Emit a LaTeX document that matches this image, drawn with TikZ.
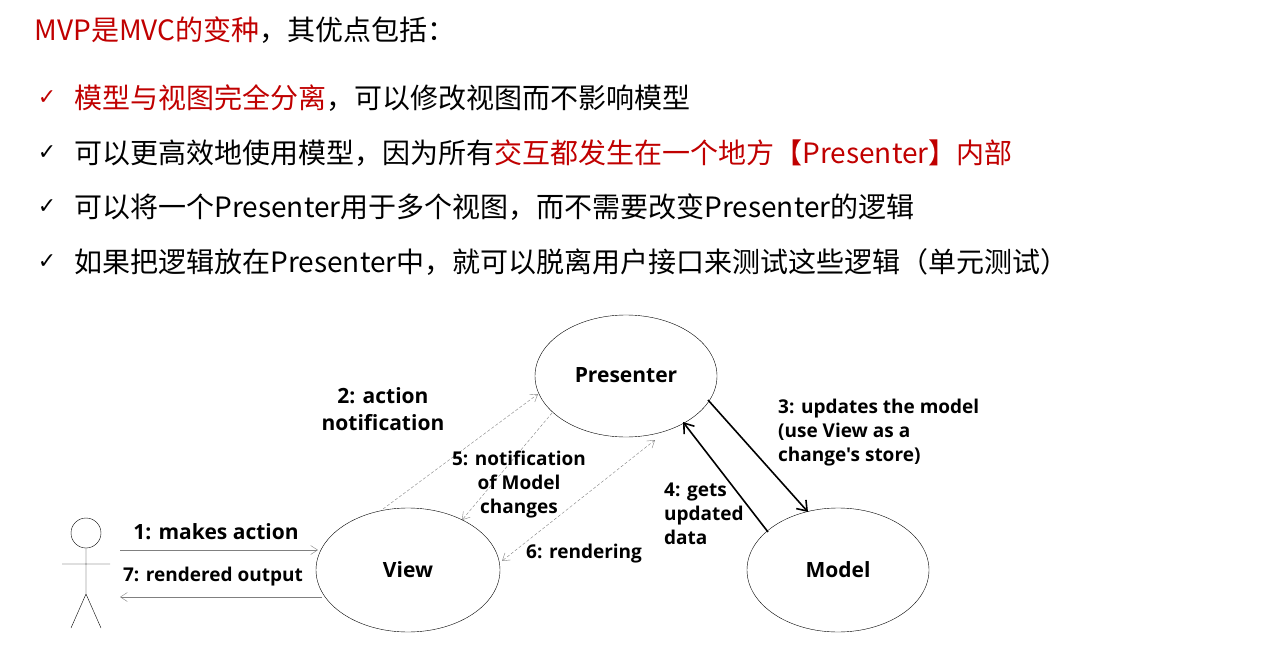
\documentclass[tikz,border=0pt]{standalone}
\usepackage{fontspec}
\setmainfont{Noto Sans CJK SC}
\newfontfamily\lab{Open Sans}
\newfontfamily\sym{DejaVu Sans}
\usetikzlibrary{arrows.meta}
\definecolor{myred}{RGB}{192,0,0}
\begin{document}
\begin{tikzpicture}[x=1pt,y=-1pt,
  lbl/.style={font=\lab\bfseries\fontsize{19}{24}\selectfont,align=center,inner sep=0},
  big/.style={font=\lab\bfseries\fontsize{21}{27}\selectfont},
  hd/.style={anchor=west,font=\fontsize{28}{32}\selectfont},
  thinarr/.style={draw=gray,thin,-{Straight Barb[length=7pt,width=9pt]}},
  dasharr/.style={draw=gray,thin,dashed,dash pattern=on 3pt off 2pt,-{Straight Barb[length=7pt,width=9pt]}},
  thickarr/.style={draw,line width=1.6pt,-{Straight Barb[length=9pt,width=13pt]}}]
\useasboundingbox (0,0) rectangle (1280,671);
\node[hd] (t) at (31,30) {\textcolor{myred}{MVP是MVC的变种}，其优点包括：};
\node[anchor=center,font=\sym\fontsize{22}{24}\selectfont,text=myred] (ca) at (47,98) {✓};
\foreach \y/\n in {153/b,207/c,262/d}{\node[anchor=center,font=\sym\fontsize{22}{24}\selectfont] (c\n) at (47,\y) {✓};}
\node[hd] (l1) at (71,98) {\textcolor{myred}{模型与视图完全分离}，可以修改视图而不影响模型};
\node[hd] (l2) at (71,153) {可以更高效地使用模型，因为所有\textcolor{myred}{交互都发生在一个地方【Presenter】内部}};
\node[hd] (l3) at (71,207) {可以将一个Presenter用于多个视图，而不需要改变Presenter的逻辑};
\node[hd] (l4) at (71,262) {如果把逻辑放在Presenter中，就可以脱离用户接口来测试这些逻辑（单元测试）};
% ellipses
\draw (626,376) ellipse [x radius=91,y radius=61];
\node[lbl,big] (P) at (626,375) {Presenter};
\draw (408,570) ellipse [x radius=92,y radius=62];
\node[lbl,big] (V) at (408,570) {View};
\draw (838,570) ellipse [x radius=91,y radius=62];
\node[lbl,big] (M) at (838,570) {Model};
% actor
\draw[thin] (86,533) circle (15);
\draw[thin] (86,548) -- (86,594) (62,564) -- (110,564) (86,594) -- (71,628) (86,594) -- (101,628);
\coordinate (a1) at (120,550); \coordinate (v1) at (318,550);
\coordinate (v7) at (322,597); \coordinate (a7) at (120,597);
\draw[thinarr] (a1) -- (v1);
\draw[thinarr] (v7) -- (a7);
\node[lbl,big] at (216,532) {1: makes action};
\node[lbl] at (213,577) {7: rendered output};
% dashed
\coordinate (v2) at (383,509); \coordinate (p2) at (538,394);
\draw[dasharr] (v2) -- (p2);
\coordinate (p5) at (552,413); \coordinate (v5) at (462,520);
\draw[dasharr] (p5) -- (v5);
\coordinate (p6) at (655,440); \coordinate (v6) at (502,561);
\draw[dasharr,{Straight Barb[length=7pt,width=9pt]}-{Straight Barb[length=7pt,width=9pt]}] (p6) -- (v6);
\node[lbl,big] at (383,409) {2: action\\notification};
\node[lbl] at (519,485) {5: notification\\of Model\\changes};
\node[lbl,anchor=west] at (526,554) {6: rendering};
% solid
\coordinate (p3) at (708,400); \coordinate (m3) at (808,512);
\draw[thickarr] (p3) -- (m3);
\coordinate (m4) at (768,532); \coordinate (p4) at (683,422);
\draw[thickarr] (m4) -- (p4);
\node[lbl,anchor=west,align=left] at (778,433) {3: updates the model\\(use View as a\\change's store)};
\node[lbl,anchor=west,align=left] at (664,514) {4: gets\\updated\\data};
\end{tikzpicture}
\end{document}
